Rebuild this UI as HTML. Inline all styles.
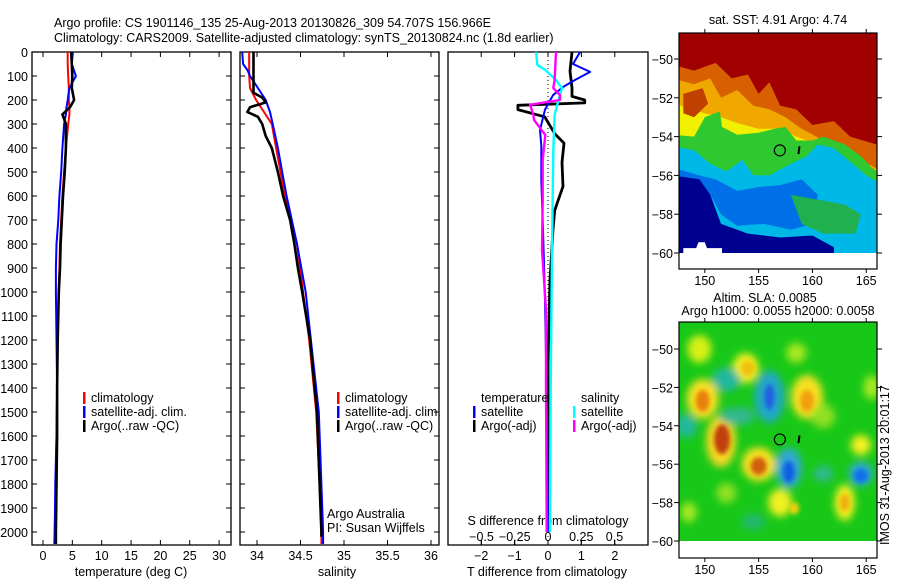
<!DOCTYPE html>
<html><head><meta charset="utf-8"><style>
html,body{margin:0;padding:0;background:#fff;}
svg{display:block;font-family:"Liberation Sans",sans-serif;}
text{font-size:12.5px;fill:#000;}
</style></head><body>
<svg id="fig" width="900" height="580" viewBox="0 0 900 580" xmlns="http://www.w3.org/2000/svg">
<defs>
<filter id="blur" x="-20%" y="-20%" width="140%" height="140%"><feGaussianBlur stdDeviation="4"/></filter>
<filter id="blur2" x="-20%" y="-20%" width="140%" height="140%"><feGaussianBlur stdDeviation="2"/></filter>
<clipPath id="clipMap1"><rect x="679" y="33" width="198" height="221"/></clipPath>
<clipPath id="clipMap2"><rect x="679" y="322" width="198" height="219"/></clipPath>
</defs>
<text x="54" y="27">Argo profile: CS 1901146_135 25-Aug-2013 20130826_309 54.707S 156.966E</text>
<text x="54" y="42">Climatology: CARS2009. Satellite-adjusted climatology: synTS_20130824.nc (1.8d earlier)</text>
<g id="g"></g>
</svg>
<script>
// ---- data ----
const tDepth=[0,50,100,150,200,230,260,300,400,500,600,700,800,900,1000,1200,1400,1600,1800,2000,2050];
const tClim=[4.2,4.2,4.3,4.4,4.4,4.5,4.5,4.3,3.9,3.6,3.3,3.1,2.9,2.8,2.7,2.5,2.4,2.3,2.2,2.0,1.9];
const tSat=[5.1,4.9,5.6,4.5,4.2,4.0,3.9,3.6,3.3,3.1,2.8,2.6,2.3,2.2,2.2,2.3,2.4,2.3,2.1,2.0,2.0];
const tArgo=[4.8,4.9,5.0,4.9,5.3,4.6,3.3,3.9,3.9,3.7,3.4,3.2,3.0,2.9,2.7,2.5,2.4,2.4,2.3,2.2,2.2];
const sDepth=[0,50,75,100,150,200,250,300,400,500,600,800,1000,1200,1500,1800,2000,2050];
const sClim=[33.91,33.91,33.91,33.91,33.92,33.99,34.08,34.17,34.22,34.27,34.32,34.46,34.53,34.60,34.68,34.72,34.74,34.74];
const sSat=[33.83,33.84,33.89,33.92,34.01,34.10,34.15,34.18,34.24,34.29,34.34,34.46,34.56,34.62,34.71,34.74,34.76,34.76];
const sArgoDepth=[0,170,190,210,230,250,270,300,350,400,500,600,700,800,900,1000,1200,1500,1800,2000,2020];
const sArgo=[33.96,33.96,34.06,34.10,33.92,33.89,34.01,34.06,34.10,34.17,34.24,34.30,34.38,34.43,34.47,34.52,34.61,34.69,34.72,34.74,34.74];
const dTArgoDepth=[0,80,150,185,200,212,222,240,270,340,380,460,560,620,660,740,950,1300,2000];
const dTArgo=[0.72,0.66,0.72,0.72,1.1,1.1,-0.9,-0.9,-0.1,0.2,0.48,0.42,0.45,0.3,0.2,0.15,0.06,0,0];
const dTSatDepth=[0,50,83,117,146,180,240,325,390,533,740,1030,1500,2000];
const dTSat=[0.96,0.75,1.26,0.8,0.45,0.15,-0.09,-0.24,-0.2,-0.2,-0.15,-0.09,-0.03,0];
const dSArgoDepth=[0,117,150,180,200,220,262,283,346,450,617,825,1075,1370,2000];
const dSArgo=[0.06,0.05,0.04,0.09,0.09,-0.135,-0.11,-0.105,-0.02,-0.04,-0.04,-0.045,-0.015,-0.015,-0.01];
const dSSatDepth=[0,54,75,117,150,200,262,408,825,1400,2000];
const dSSat=[-0.09,-0.08,-0.02,0.06,0.105,0.08,0.05,0.04,0.03,0.02,0.015];
const depthTicks=[0,100,200,300,400,500,600,700,800,900,1000,1100,1200,1300,1400,1500,1600,1700,1800,1900,2000];
const tTicks=[0,5,10,15,20,25,30];
const sTicks=[34,34.5,35,35.5,36];
const dTTicks=[-2,-1,0,1,2];
const dSTicks=[-0.5,-0.25,0,0.25,0.5];
const latTicks=[-50,-52,-54,-56,-58,-60];
const lonTicks=[150,155,160,165];
const argoLon=156.97, argoLat=-54.71;

// ---- axes ----
const Y=d=>52+d*0.24;
const xT=v=>43+v*5.87;
const xS=v=>257+(v-34)*87;
const xdT=v=>548+v*33.4;
const xdS=v=>548+v*133;
const mLon=v=>679+(v-147.6)*10.76;
const m1Lat=v=>59+(-50-v)*19.4;
const m2Lat=v=>349+(-50-v)*19.2;

const NS="http://www.w3.org/2000/svg";
const G=document.getElementById('g');
function mk(tag,attrs,parent){const e=document.createElementNS(NS,tag);for(const k in attrs)e.setAttribute(k,attrs[k]);(parent||G).appendChild(e);return e;}
function txt(x,y,s,anchor,parent){const e=mk('text',{x:x,y:y,'text-anchor':anchor||'start'},parent);e.textContent=s;return e;}

function frame(x0,x1,name){
  const r=mk('rect',{x:x0,y:52,width:x1-x0,height:493,fill:'none',stroke:'#000','stroke-width':1.3});
  
  
}
function xticks(ticks,fx,y,name){
  ticks.forEach(t=>{
    const x=fx(t);
    mk('line',{x1:x,x2:x,y1:52,y2:57,stroke:'#000'});
    mk('line',{x1:x,x2:x,y1:545,y2:540,stroke:'#000'});
    const e=txt(x,y,String(t).replace('-','\u2212'),'middle');
    
    
  });
}
function yticks(x0,x1){
  depthTicks.forEach(d=>{const y=Y(d);mk('line',{x1:x0,x2:x0+5,y1:y,y2:y,stroke:'#000'});mk('line',{x1:x1,x2:x1-5,y1:y,y2:y,stroke:'#000'});});
}
function line(xs,ds,fx,color,w,name){
  const pts=xs.map((v,i)=>fx(v).toFixed(1)+','+Y(ds[i]).toFixed(1)).join(' ');
  const p=mk('polyline',{points:pts,fill:'none',stroke:color,'stroke-width':w,'stroke-linejoin':'round'});
  
  
}

// panel 1
frame(32,231,'temperature-panel');
yticks(32,231);
depthTicks.forEach(d=>{const e=txt(28,Y(d)+5,String(d),'end');
  
  });
xticks(tTicks,xT,560,'temperature-tick-label');
let e=txt(131,576,'temperature (deg C)','middle');


line(tClim,tDepth,xT,'#ff0000',2,'temp-climatology-line');
line(tSat,tDepth,xT,'#0000ff',2,'temp-satellite-line');
line(tArgo,tDepth,xT,'#000000',2.6,'temp-argo-line');

// panel 2
frame(240,439,'salinity-panel');
yticks(240,439);
xticks(sTicks,xS,560,'salinity-tick-label');
e=txt(337,576,'salinity','middle');


line(sClim,sDepth,xS,'#ff0000',2,'sal-climatology-line');
line(sSat,sDepth,xS,'#0000ff',2,'sal-satellite-line');
line(sArgo,sArgoDepth,xS,'#000000',2.6,'sal-argo-line');

function legend(x,y,items,name){
  items.forEach((it,i)=>{
    mk('rect',{x:x,y:y+i*14-10,width:2.5,height:12,fill:it[0]});
    const t=txt(x+8,y+i*14,it[1]);
    
    
  });
}
const legItems=[['#ff0000','climatology'],['#0000ff','satellite-adj. clim.'],['#000','Argo(..raw -QC)']];
legend(83,402,legItems,'temp-legend-entry');
legend(337,402,legItems,'sal-legend-entry');
e=txt(327,518,'Argo Australia');
e=txt(327,532,'PI: Susan Wijffels');

// panel 3
frame(448,648,'difference-panel');
xticks(dTTicks,xdT,560,'t-diff-tick-label');
dSTicks.forEach(t=>{const x=xdS(t);mk('line',{x1:x,x2:x,y1:545,y2:540,stroke:'#000'});
  const tt=txt(x,541,String(t).replace('-','\u2212'),'middle');
  
  });
e=txt(548,525,'S difference from climatology','middle');
e=txt(547,576,'T difference from climatology','middle');
mk('line',{x1:548,x2:548,y1:52,y2:545,stroke:'#000','stroke-dasharray':'1,3'});
line(dTArgo,dTArgoDepth,xdT,'#000000',2.8,'tdiff-argo-line');
line(dTSat,dTSatDepth,xdT,'#0000ff',2,'tdiff-satellite-line');
line(dSSat,dSSatDepth,xdS,'#00ffff',2.4,'sdiff-satellite-line');
line(dSArgo,dSArgoDepth,xdS,'#ff00ff',2.4,'sdiff-argo-line');
e=txt(481,402,'temperature');
e=txt(581,402,'salinity');
legend(473,416,[['#0000ff','satellite'],['#000','Argo(-adj)']],'tdiff-legend-entry');
legend(573,416,[['#00ffff','satellite'],['#ff00ff','Argo(-adj)']],'sdiff-legend-entry');

// ---- maps ----
function poly(pts,latf,fill,parent,name){
  const s=pts.map(p=>mLon(p[0]).toFixed(1)+','+latf(p[1]).toFixed(1)).join(' ');
  const p=mk('polygon',{points:s,fill:fill},parent);
  
  
}
const m1=mk('g',{'clip-path':'url(#clipMap1)'});


mk('rect',{x:679,y:33,width:198,height:221,fill:'#a00000'},m1);
poly([[147,-50.3],[149,-50.6],[151,-50.2],[152.5,-51],[154,-50.8],[155,-51.8],[156,-51.2],[157,-52.4],[158.5,-52.6],[160,-53.4],[162,-53.2],[163.5,-54],[166.5,-54.5],[166.5,-61],[147,-61]],m1Lat,'#d86000',m1,'sst-orange-zone');
poly([[147,-51],[149,-51.3],[150.5,-51],[151.5,-52],[153,-51.6],[154.5,-52.4],[156,-52.6],[157.5,-53],[159,-53.6],[161,-54.2],[163,-54.6],[164.5,-55.2],[166.5,-55.8],[166.5,-61],[147,-61]],m1Lat,'#f0a800',m1,'sst-light-orange-zone');
poly([[147,-52.2],[148.5,-52.6],[150,-52.8],[151.5,-53],[153,-53.3],[155,-53.6],[157,-53.6],[158.5,-54],[160,-54.3],[162,-54.8],[164,-55.6],[166.5,-56.2],[166.5,-61],[147,-61]],m1Lat,'#f0f000',m1,'sst-yellow-zone');
poly([[147,-53.9],[149,-54],[150,-53],[151.4,-52.7],[151.6,-53.5],[153,-53.9],[155,-53.8],[156.5,-53.6],[157.5,-53.5],[158.5,-54.2],[160,-54.2],[161,-54],[163,-54.4],[164.5,-55],[165.5,-55.6],[166.5,-56],[166.5,-61],[147,-61]],m1Lat,'#30c830',m1,'sst-green-zone');
poly([[147,-54.5],[149,-54.7],[150.5,-55.4],[152,-55.8],[153.5,-55.2],[154.5,-56],[156,-56],[158,-55.4],[159.5,-55],[160.5,-54.4],[162,-54.6],[163.5,-55.3],[165,-56],[166.5,-56.5],[166.5,-61],[147,-61]],m1Lat,'#00b8e8',m1,'sst-cyan-zone');
poly([[147,-55.6],[149.5,-56],[151,-56.2],[153,-56.8],[155,-56.6],[157,-56.5],[159,-56.2],[160.5,-57],[160,-58.5],[158,-58.8],[155.5,-58.5],[153,-58.6],[151.5,-58],[150.5,-57],[147,-56.5]],m1Lat,'#0070e8',m1,'sst-blue-zone');
poly([[158,-57],[160,-57.2],[163,-57.5],[164.5,-58],[164,-59],[161,-59],[159,-58.5]],m1Lat,'#20b050',m1,'sst-green-patch');
poly([[147,-56],[149.5,-56.2],[150.5,-57],[151.5,-58.5],[154,-59],[157,-59.2],[160,-59.1],[162,-59.7],[162,-61],[147,-61]],m1Lat,'#000090',m1,'sst-dark-blue-zone');
poly([[148,-61],[148,-59.75],[149.2,-59.75],[149.4,-59.45],[150,-59.45],[150.2,-59.75],[151.6,-59.75],[151.6,-60],[152,-60],[152,-61]],m1Lat,'#ffffff',m1,'sst-land-mask');
poly([[148,-51.8],[149.8,-51.5],[150.3,-52.3],[149,-53],[148,-52.8]],m1Lat,'#c04000',m1,'sst-red-patch');
mk('rect',{x:679,y:m1Lat(-60),width:198,height:20,fill:'#fff'},m1);

const m2=mk('g',{'clip-path':'url(#clipMap2)'});


mk('rect',{x:679,y:322,width:198,height:219,fill:'#18c818'},m2);
const blobs=m2.appendChild(document.createElementNS(NS,'g'));blobs.setAttribute('filter','url(#blur)');
function blob(lon,lat,rx,ry,fill,par){mk('ellipse',{cx:mLon(lon),cy:m2Lat(lat),rx:rx,ry:ry,fill:fill},par||blobs);}
[[149.5,-50,12,14,'#d8f018'],[153.8,-51,13,15,'#f8f020'],[158.5,-50.2,10,10,'#a8e820'],[149.8,-52.6,16,20,'#f8e020'],[151.5,-54.8,15,26,'#f8d820'],[155,-56,17,17,'#f8e020'],[159.5,-52.5,16,22,'#f8e020'],[157,-58,12,14,'#f0f020'],[163,-58,10,18,'#f8f020'],[164.5,-55,10,10,'#f8f020'],[152,-57.5,10,10,'#90e020'],[161,-53.5,12,12,'#90e020'],[148.5,-58.5,8,10,'#a8e820'],[165.5,-52,8,12,'#a8e820'],
 [152,-51.6,14,12,'#20b8a0'],[148.3,-54,10,12,'#20b8a0'],[156,-52.5,15,26,'#20a8c8'],[157.8,-56.2,13,20,'#30a8d8'],[164.5,-56.5,12,12,'#30a8d8'],[153,-53.5,18,9,'#30b890'],[161,-56.5,10,8,'#30b890'],[154.5,-59,12,8,'#20b870']].forEach(b=>blob(...b));
const cores=m2.appendChild(document.createElementNS(NS,'g'));cores.setAttribute('filter','url(#blur2)');
[[149.8,-52.7,7,11,'#e88010'],[151.6,-54.7,8,15,'#c04010'],[155,-56.1,8,9,'#d06010'],[159.5,-52.7,7,11,'#f0a010'],[156,-52.5,5,13,'#2060e0'],[157.8,-56.4,6,11,'#1060e0'],[164.5,-56.6,7,7,'#1070e8'],[163,-58,5,9,'#f0b010'],[154,-51,7,8,'#f0c010'],[158.3,-58.3,5,6,'#f0d010']].forEach(b=>blob(...b,cores));
mk('rect',{x:679,y:m2Lat(-60),width:198,height:20,fill:'#fff'},m2);

function mapAxes(top,bottom,latf,name){
  const r=mk('rect',{x:679,y:top,width:198,height:bottom-top,fill:'none',stroke:'#000','stroke-width':1.2});
  
  
  latTicks.forEach(l=>{const y=latf(l);
    mk('line',{x1:674,x2:679,y1:y,y2:y,stroke:'#000'});mk('line',{x1:877,x2:882,y1:y,y2:y,stroke:'#000'});
    const t=txt(673,y+5,String(l).replace('-','\u2212'),'end');
    
    });
  lonTicks.forEach(l=>{const x=mLon(l);
    mk('line',{x1:x,x2:x,y1:top,y2:top-4,stroke:'#000'});mk('line',{x1:x,x2:x,y1:bottom,y2:bottom+4,stroke:'#000'});
    const t=txt(x,bottom+16,String(l),'middle');
    
    });
}
mapAxes(33,269,m1Lat,'sst-map-frame');
mapAxes(322,558,m2Lat,'sla-map-frame');
[[m1Lat,'sst'],[m2Lat,'sla']].forEach(([f,n])=>{
  const c=mk('circle',{cx:mLon(argoLon),cy:f(argoLat),r:5.5,fill:'none',stroke:'#000','stroke-width':1.2});
  
  
  mk('line',{x1:mLon(158.8),x2:mLon(158.7),y1:f(-54.5),y2:f(-54.9),stroke:'#000','stroke-width':2});
});
e=txt(778,24,'sat. SST: 4.91  Argo: 4.74','middle');
e=txt(765,302,'Altim. SLA: 0.0085','middle');
e=txt(778,315,'Argo h1000: 0.0055 h2000: 0.0058','middle');
e=txt(0,0,'IMOS 31-Aug-2013 20:01:17','start');
e.setAttribute('transform','translate(889,545) rotate(-90)');
e.setAttribute('font-size','12');


</script>
</body></html>
